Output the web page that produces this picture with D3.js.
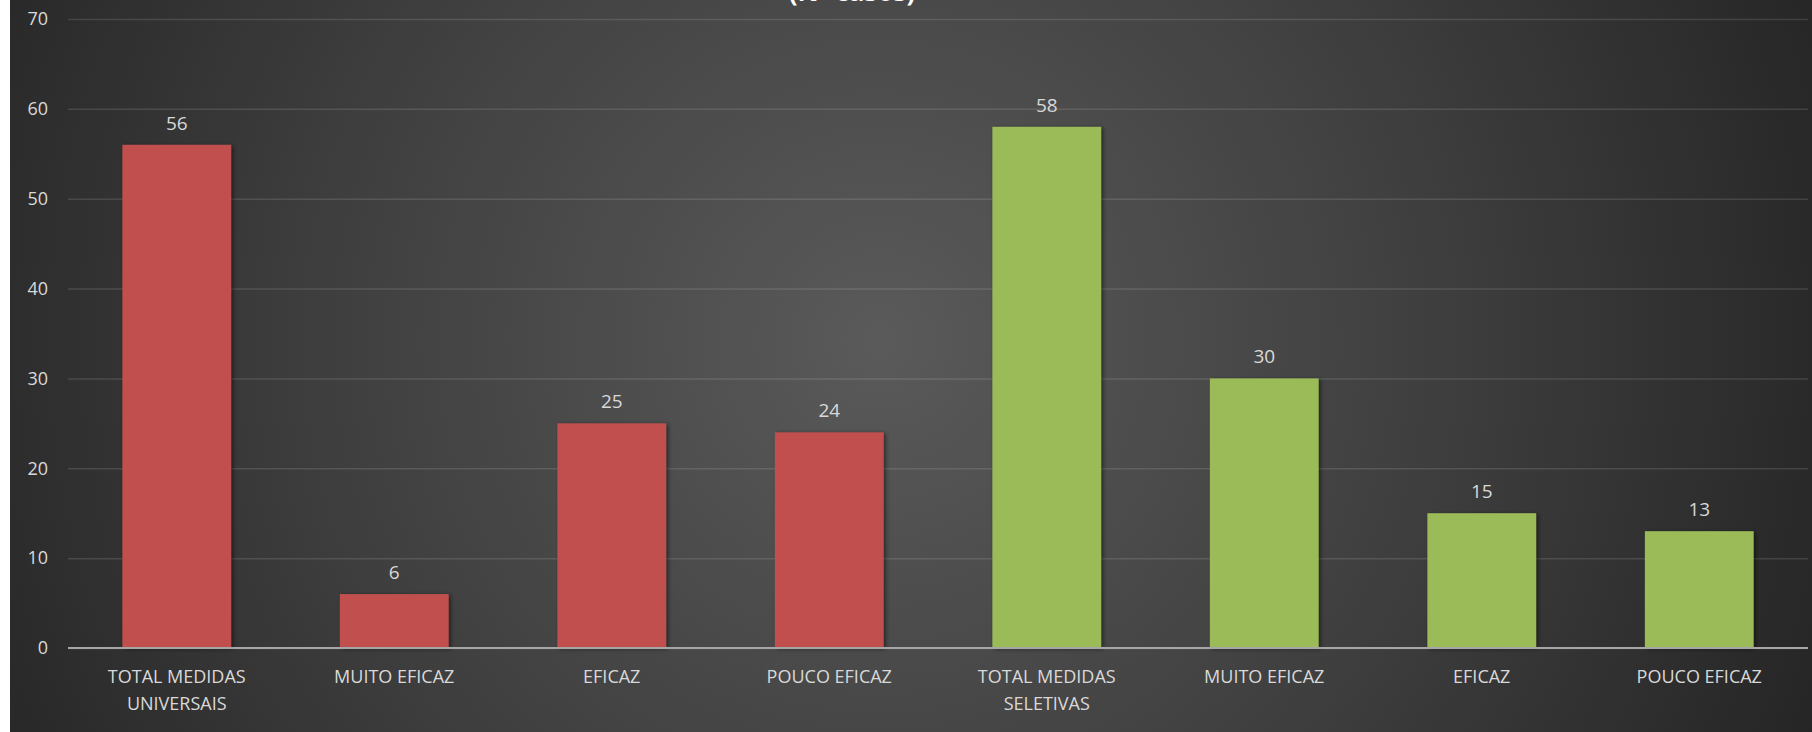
<!DOCTYPE html>
<html><head><meta charset="utf-8">
<script src="https://cdn.jsdelivr.net/npm/d3@7/dist/d3.min.js"></script>
<style>html,body{margin:0;padding:0;background:#fff;overflow:hidden}svg{display:block}</style>
</head><body>
<script>
const categories = [["TOTAL MEDIDAS","UNIVERSAIS"],["MUITO EFICAZ"],["EFICAZ"],["POUCO EFICAZ"],["TOTAL MEDIDAS","SELETIVAS"],["MUITO EFICAZ"],["EFICAZ"],["POUCO EFICAZ"]];
const values = [56, 6, 25, 24, 58, 30, 15, 13];
const groups = ["universais","universais","universais","universais","seletivas","seletivas","seletivas","seletivas"];
const yTicks = [0, 10, 20, 30, 40, 50, 60, 70];
const titleText = "(Nº casos)";

const W = 1812, H = 732;
const svg = d3.select("body").append("svg").attr("width", W).attr("height", H);
const defs = svg.append("defs");
const rg = defs.append("radialGradient").attr("id","bg").attr("gradientUnits","userSpaceOnUse")
  .attr("cx", 880).attr("cy", 340).attr("r", 1050);
rg.append("stop").attr("offset","0").attr("stop-color","#5a5a5a");
rg.append("stop").attr("offset","0.5").attr("stop-color","#404040");
rg.append("stop").attr("offset","1").attr("stop-color","#232323");
const f = defs.append("filter").attr("id","sh").attr("x","-10%").attr("y","-10%").attr("width","130%").attr("height","130%");
f.append("feDropShadow").attr("dx",2).attr("dy",1).attr("stdDeviation",2).attr("flood-color","#000").attr("flood-opacity",0.5);

svg.append("rect").attr("x",10).attr("y",0).attr("width",W-10).attr("height",H).attr("fill","url(#bg)");

const x = d3.scaleBand().domain(d3.range(categories.length)).range([68, 1808]).paddingInner(0.5).paddingOuter(0.25);
const y = d3.scaleLinear().domain([0, 70]).range([648, 19]);
const color = d3.scaleOrdinal().domain(["universais","seletivas"]).range(["#c0504d","#9bbb59"]);

svg.append("text").attr("x", 852).attr("y", 1).attr("text-anchor","middle")
  .attr("font-family","Open Sans").attr("font-weight","bold").attr("font-size",26).attr("fill","#fff").text(titleText);

const ya = svg.append("g").attr("transform","translate(68,0)")
  .call(d3.axisLeft(y).tickValues(yTicks).tickSize(-1740).tickFormat(d3.format("d")).tickPadding(20));
ya.select(".domain").remove();
ya.selectAll(".tick line").attr("stroke","#fff").attr("stroke-opacity",0.12).attr("stroke-width",1.5);
ya.selectAll(".tick text").attr("font-family","Open Sans").attr("font-size",18).attr("fill","#d9d9d9");

svg.selectAll("rect.bar").data(values).enter().append("rect").attr("class","bar")
  .attr("x",(d,i)=>x(i)).attr("width",x.bandwidth())
  .attr("y",d=>y(d)).attr("height",d=>y(0)-y(d))
  .attr("fill",(d,i)=>color(groups[i])).attr("filter","url(#sh)");

svg.append("line").attr("x1",68).attr("x2",1808).attr("y1",y(0)).attr("y2",y(0)).attr("stroke","#a6a6a6").attr("stroke-width",2);

svg.selectAll("text.val").data(values).enter().append("text").attr("class","val")
  .attr("x",(d,i)=>x(i)+x.bandwidth()/2).attr("y",d=>y(d)-15).attr("text-anchor","middle")
  .attr("font-family","Open Sans").attr("font-size",19).attr("fill","#d9d9d9").text(d=>d);

const xa = svg.append("g").attr("transform",`translate(0,${y(0)})`)
  .call(d3.axisBottom(x).tickSize(0).tickFormat(""));
xa.select(".domain").remove();
categories.forEach((lines,i)=>{
  const t = svg.append("text").attr("text-anchor","middle").attr("font-family","Open Sans").attr("font-size",18).attr("fill","#d9d9d9");
  lines.forEach((l,k)=>t.append("tspan").attr("x",x(i)+x.bandwidth()/2).attr("y",683+k*27).text(l));
});
</script>
</body></html>
